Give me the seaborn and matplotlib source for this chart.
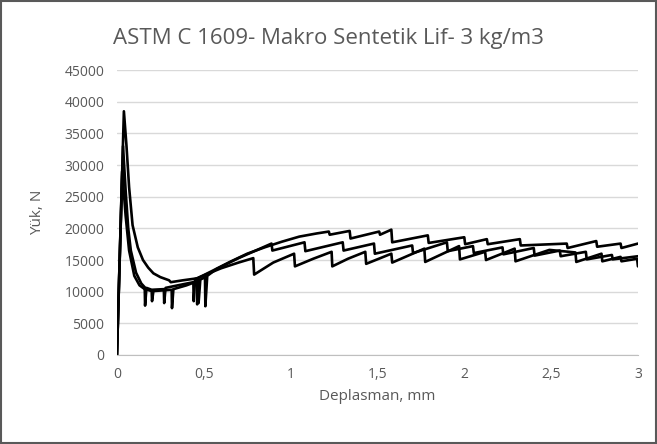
import pandas as pd
import matplotlib.pyplot as plt
import seaborn as sns
from matplotlib.patches import Rectangle

# deney 1 (en yüksek tepe)
x1 = [0, 0.040, 0.055, 0.07, 0.09, 0.12, 0.15, 0.18, 0.21, 0.25, 0.30, 0.31, 0.38, 0.46, 0.462,
      0.47, 0.55, 0.65, 0.75, 0.85, 0.95, 1.05, 1.15, 1.22, 1.225, 1.34, 1.345, 1.51, 1.515,
      1.58, 1.585, 1.79, 1.795, 2.0, 2.005, 2.13, 2.135, 2.32, 2.325, 2.59, 2.595, 2.76, 2.765,
      2.9, 2.905, 3.0]
y1 = [0, 38500, 33000, 26500, 20500, 17000, 15000, 13800, 12900, 12300, 11800, 11500, 11800, 12100, 8000,
      12200, 13300, 14700, 16000, 17000, 17900, 18700, 19200, 19500, 19000, 19600, 18400, 19500, 19000,
      19800, 17800, 18900, 17700, 18600, 17500, 18300, 17500, 18300, 17300, 17600, 16900, 18000, 17100,
      17600, 16900, 17600]

# deney 2
x2 = [0, 0.035, 0.05, 0.065, 0.08, 0.11, 0.14, 0.16, 0.162, 0.17, 0.2, 0.27, 0.272, 0.28, 0.35,
      0.44, 0.442, 0.45, 0.52, 0.6, 0.7, 0.785, 0.79, 0.9, 1.02, 1.025, 1.13, 1.236, 1.24, 1.33,
      1.43, 1.435, 1.58, 1.585, 1.77, 1.775, 1.97, 1.975, 2.12, 2.125, 2.29, 2.295, 2.49, 2.64,
      2.645, 2.79, 2.795, 2.9, 2.905, 2.995, 3.0]
y2 = [0, 33000, 26000, 20000, 16500, 13000, 11300, 10700, 7800, 10600, 10300, 10400, 8200, 10600, 11000,
      11500, 8500, 12000, 12800, 13700, 14600, 15300, 12700, 14600, 16000, 14000, 15200, 16300, 14000, 15200,
      16300, 14400, 16000, 14600, 16800, 14700, 17200, 15100, 16300, 15000, 16800, 14800, 16600, 16200,
      14700, 16000, 14800, 15500, 14800, 15200, 14000]

# deney 3
x3 = [0, 0.03, 0.05, 0.07, 0.1, 0.13, 0.16, 0.2, 0.202, 0.21, 0.315, 0.317, 0.325, 0.4, 0.468,
      0.47, 0.48, 0.507, 0.509, 0.52, 0.574, 0.7, 0.89, 0.895, 1.08, 1.085, 1.3, 1.305, 1.48,
      1.485, 1.7, 1.705, 1.9, 1.905, 2.05, 2.055, 2.22, 2.225, 2.4, 2.405, 2.55, 2.555, 2.7,
      2.705, 2.85, 2.855, 3.0]
y3 = [0, 29000, 22000, 16500, 12500, 11000, 10400, 10100, 8500, 10100, 10300, 7400, 10400, 11000, 11700,
      8200, 11900, 12300, 7700, 12500, 13600, 15300, 17600, 16500, 17800, 16400, 17800, 16500, 17600,
      16000, 17300, 16100, 17800, 16400, 17200, 16100, 17000, 15900, 16900, 15700, 16500, 15600, 16300,
      15100, 15800, 15100, 15600]

x_ticks = [0, 0.5, 1, 1.5, 2, 2.5, 3]
x_tick_labels = ['0', '0,5', '1', '1,5', '2', '2,5', '3']
y_ticks = [0, 5000, 10000, 15000, 20000, 25000, 30000, 35000, 40000, 45000]

df = pd.concat([
    pd.DataFrame({'x': x1, 'y': y1, 'deney': 1}),
    pd.DataFrame({'x': x2, 'y': y2, 'deney': 2}),
    pd.DataFrame({'x': x3, 'y': y3, 'deney': 3}),
])

sns.set_style('white')
plt.rcParams['font.family'] = ['Open Sans', 'DejaVu Sans']
grey = '#595959'

fig = plt.figure(figsize=(6.57, 4.44), dpi=100)
ax = fig.add_axes([0.178, 0.2005, 0.793, 0.6415])

sns.lineplot(data=df, x='x', y='y', units='deney', estimator=None, sort=False,
             color='black', linewidth=1.9, ax=ax)

ax.set_xlim(0, 3)
ax.set_ylim(0, 45000)
ax.set_xticks(x_ticks)
ax.set_xticklabels(x_tick_labels)
ax.set_yticks(y_ticks)
ax.tick_params(colors=grey, labelsize=10, length=0, pad=9)
ax.grid(axis='y', color='#d9d9d9', linewidth=1)
ax.set_axisbelow(True)
for s in ['left', 'right', 'top']:
    ax.spines[s].set_visible(False)
ax.spines['bottom'].set_color('#bfbfbf')

ax.set_xlabel('Deplasman, mm', color=grey, fontsize=11, labelpad=5)
ax.set_ylabel('Yük, N', color=grey, fontsize=11, labelpad=14)
fig.text(0.5, 0.914, 'ASTM C 1609- Makro Sentetik Lif- 3 kg/m3', ha='center', va='center',
         color=grey, fontsize=16)

fig.patches.append(Rectangle((0.002, 0.003), 0.996, 0.994, transform=fig.transFigure,
                             fill=False, edgecolor='#595959', linewidth=1.5))

fig.savefig('out.png', dpi=100)
